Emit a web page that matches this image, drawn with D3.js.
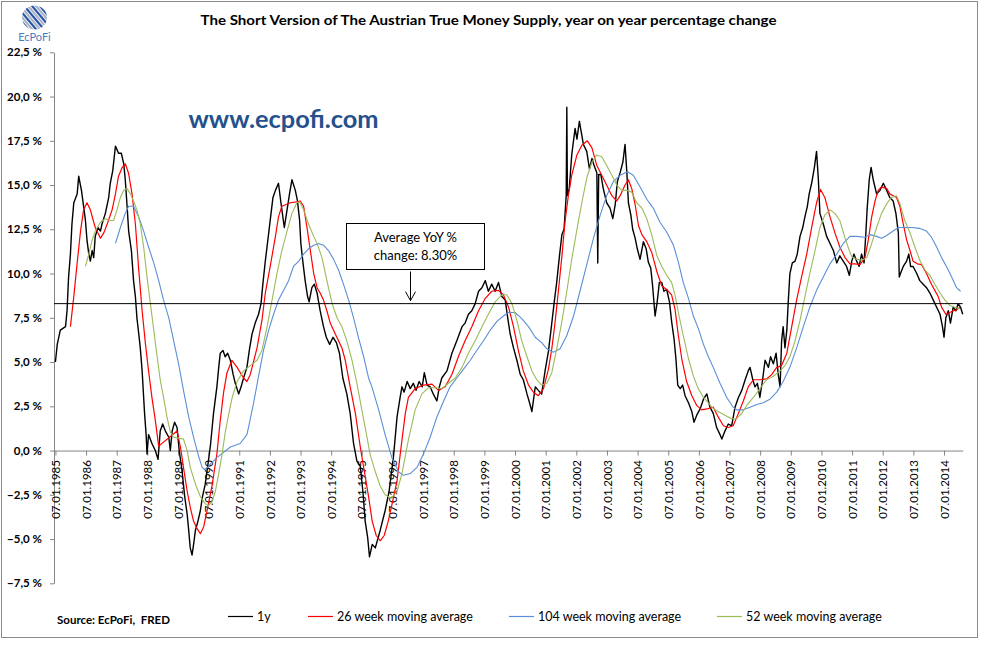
<!DOCTYPE html>
<html>
<head>
<meta charset="utf-8">
<script src="https://cdn.jsdelivr.net/npm/d3@7"></script>
<style>
  body { margin: 0; background: #fff; }
  svg { display: block; font-family: Lato, "Open Sans", sans-serif; }
</style>
</head>
<body>
<svg id="chart" width="992" height="648"></svg>
<script>
// values: [decimal year, % yoy]
var oneYear = [[1985.02,5.0],[1985.08,6.0],[1985.18,6.8],[1985.35,7.0],[1985.40,7.9],[1985.45,9.8],[1985.51,11.1],[1985.56,12.8],[1985.62,14.0],[1985.73,14.5],[1985.78,15.5],[1985.87,14.7],[1985.94,13.8],[1986.00,13.0],[1986.05,11.9],[1986.11,11.1],[1986.16,10.7],[1986.22,11.3],[1986.27,10.9],[1986.32,12.1],[1986.41,12.6],[1986.49,12.4],[1986.54,12.8],[1986.65,13.4],[1986.76,14.3],[1986.81,15.1],[1986.89,15.8],[1986.98,17.2],[1987.08,16.8],[1987.17,16.8],[1987.25,16.2],[1987.30,15.3],[1987.36,13.8],[1987.41,12.4],[1987.50,11.3],[1987.57,9.6],[1987.63,8.7],[1987.68,7.5],[1987.74,6.6],[1987.79,5.8],[1987.85,4.5],[1987.90,3.0],[1987.93,2.1],[1987.98,0.9],[1988.01,-0.2],[1988.06,0.9],[1988.17,0.4],[1988.28,0.0],[1988.37,-0.5],[1988.44,1.1],[1988.52,1.5],[1988.61,1.1],[1988.72,0.75],[1988.77,0.0],[1988.83,1.1],[1988.91,1.6],[1988.99,1.3],[1989.06,0.0],[1989.15,-1.1],[1989.24,-2.6],[1989.32,-3.6],[1989.37,-4.5],[1989.42,-5.5],[1989.48,-5.9],[1989.53,-5.3],[1989.59,-4.5],[1989.67,-4.0],[1989.75,-3.4],[1989.82,-2.6],[1989.91,-1.9],[1990.00,-0.75],[1990.08,0.3],[1990.18,2.1],[1990.29,3.6],[1990.35,4.7],[1990.40,5.5],[1990.49,5.65],[1990.56,5.3],[1990.64,5.5],[1990.73,5.1],[1990.82,4.3],[1990.89,3.8],[1991.00,3.2],[1991.08,3.6],[1991.16,4.1],[1991.27,4.7],[1991.36,5.8],[1991.44,6.6],[1991.54,7.2],[1991.65,7.7],[1991.73,8.3],[1991.79,9.4],[1991.87,10.7],[1991.94,11.7],[1992.03,13.0],[1992.12,14.3],[1992.20,14.7],[1992.30,15.1],[1992.38,14.0],[1992.49,12.6],[1992.58,13.6],[1992.66,14.5],[1992.74,15.3],[1992.85,14.7],[1992.92,14.1],[1992.99,13.0],[1993.03,11.7],[1993.10,10.6],[1993.17,9.6],[1993.25,8.7],[1993.30,8.4],[1993.39,9.2],[1993.47,9.4],[1993.56,8.9],[1993.66,7.9],[1993.77,7.0],[1993.86,6.4],[1993.97,6.0],[1994.08,6.4],[1994.19,6.1],[1994.29,5.5],[1994.40,4.1],[1994.53,3.2],[1994.64,2.1],[1994.75,0.4],[1994.86,-0.6],[1994.97,-0.9],[1995.06,-2.4],[1995.13,-4.0],[1995.21,-4.9],[1995.27,-6.0],[1995.36,-5.3],[1995.46,-5.5],[1995.62,-4.5],[1995.78,-3.4],[1995.91,-2.3],[1996.05,-0.4],[1996.17,1.9],[1996.27,3.0],[1996.33,3.6],[1996.40,3.3],[1996.50,3.9],[1996.60,3.5],[1996.70,3.8],[1996.79,3.4],[1996.89,3.9],[1996.99,3.6],[1997.06,4.4],[1997.15,3.7],[1997.25,3.6],[1997.35,3.2],[1997.47,2.8],[1997.55,3.6],[1997.63,4.1],[1997.80,4.5],[1997.96,5.5],[1998.12,6.2],[1998.29,7.0],[1998.39,7.2],[1998.50,7.7],[1998.61,7.9],[1998.72,8.3],[1998.83,9.0],[1998.94,9.2],[1999.05,9.6],[1999.15,9.0],[1999.26,9.4],[1999.37,9.0],[1999.48,9.5],[1999.59,8.7],[1999.70,8.5],[1999.79,7.4],[1999.86,6.6],[1999.97,5.8],[2000.08,5.1],[2000.19,4.3],[2000.29,4.0],[2000.41,3.2],[2000.51,2.6],[2000.57,2.2],[2000.68,3.6],[2000.78,3.4],[2000.89,3.2],[2001.00,4.5],[2001.11,5.6],[2001.20,6.9],[2001.30,8.4],[2001.38,9.5],[2001.47,11.0],[2001.55,12.2],[2001.62,12.5],[2001.69,14.4],[2001.71,19.4],[2001.73,14.4],[2001.79,14.8],[2001.87,16.7],[2001.98,18.2],[2002.04,17.6],[2002.12,18.6],[2002.20,17.8],[2002.25,17.3],[2002.36,16.9],[2002.45,15.9],[2002.53,16.5],[2002.60,16.1],[2002.69,15.7],[2002.72,10.6],[2002.75,15.6],[2002.82,15.6],[2002.90,14.8],[2003.01,14.0],[2003.12,13.7],[2003.21,13.1],[2003.29,13.9],[2003.36,15.2],[2003.45,15.7],[2003.54,16.3],[2003.61,17.3],[2003.67,15.7],[2003.72,14.0],[2003.80,13.3],[2003.86,12.5],[2003.94,12.0],[2004.01,11.4],[2004.10,10.8],[2004.21,11.8],[2004.30,11.4],[2004.37,10.65],[2004.45,10.3],[2004.51,9.3],[2004.59,7.6],[2004.66,8.4],[2004.73,9.5],[2004.81,9.5],[2004.88,9.0],[2004.97,9.1],[2005.06,8.4],[2005.13,7.3],[2005.21,6.3],[2005.27,5.2],[2005.33,3.7],[2005.41,3.5],[2005.49,3.7],[2005.57,3.1],[2005.68,2.7],[2005.79,2.2],[2005.86,1.6],[2005.95,2.0],[2006.06,2.35],[2006.17,2.9],[2006.28,3.2],[2006.38,2.45],[2006.49,2.1],[2006.60,1.3],[2006.71,0.9],[2006.77,0.65],[2006.87,1.1],[2006.98,1.5],[2007.09,1.4],[2007.20,2.45],[2007.31,3.0],[2007.42,3.4],[2007.53,4.0],[2007.63,4.5],[2007.69,4.7],[2007.78,4.0],[2007.85,3.6],[2007.93,3.8],[2008.01,3.0],[2008.10,4.0],[2008.18,5.1],[2008.29,4.7],[2008.36,5.3],[2008.45,4.9],[2008.54,5.5],[2008.61,4.3],[2008.67,3.6],[2008.72,6.2],[2008.77,7.0],[2008.83,5.8],[2008.89,6.8],[2008.94,8.5],[2008.99,10.0],[2009.07,10.6],[2009.16,10.7],[2009.23,11.1],[2009.32,12.1],[2009.41,12.6],[2009.48,13.2],[2009.56,13.8],[2009.62,14.5],[2009.70,15.1],[2009.79,16.0],[2009.86,16.9],[2009.92,15.3],[2009.97,13.4],[2010.08,12.8],[2010.19,12.1],[2010.30,11.7],[2010.41,11.3],[2010.52,10.6],[2010.62,11.0],[2010.73,10.7],[2010.84,10.4],[2010.93,9.9],[2011.01,10.7],[2011.08,11.1],[2011.17,10.7],[2011.25,10.4],[2011.33,11.1],[2011.41,10.6],[2011.47,12.3],[2011.51,13.6],[2011.58,15.3],[2011.64,16.0],[2011.71,15.3],[2011.82,14.5],[2011.93,14.7],[2012.04,15.1],[2012.15,14.7],[2012.25,14.3],[2012.36,14.1],[2012.45,13.4],[2012.53,12.3],[2012.56,9.8],[2012.60,10.0],[2012.69,10.4],[2012.80,10.7],[2012.87,11.1],[2012.93,10.4],[2013.01,10.4],[2013.13,10.0],[2013.23,9.6],[2013.34,9.4],[2013.45,9.2],[2013.56,8.9],[2013.67,8.5],[2013.78,8.1],[2013.89,7.7],[2013.97,7.0],[2014.02,6.4],[2014.08,7.5],[2014.16,7.9],[2014.23,7.2],[2014.32,8.1],[2014.41,7.9],[2014.48,8.3],[2014.56,8.1],[2014.63,7.7]];

var avg26 = [[1985.51,7.0],[1985.62,8.7],[1985.73,10.6],[1985.84,12.4],[1985.94,13.6],[1986.05,14.0],[1986.16,13.6],[1986.32,12.6],[1986.49,12.0],[1986.60,12.3],[1986.71,12.8],[1986.87,13.6],[1986.98,14.5],[1987.08,15.5],[1987.20,16.0],[1987.30,16.2],[1987.41,15.65],[1987.52,14.5],[1987.63,12.8],[1987.74,10.2],[1987.85,7.9],[1987.96,6.0],[1988.06,4.5],[1988.17,3.0],[1988.28,1.7],[1988.39,0.25],[1988.99,1.1],[1989.10,0.2],[1989.20,-0.95],[1989.32,-2.3],[1989.42,-3.2],[1989.53,-4.0],[1989.64,-4.4],[1989.75,-4.7],[1989.86,-4.3],[1989.97,-3.4],[1990.13,-2.0],[1990.29,-0.2],[1990.40,1.7],[1990.51,3.3],[1990.62,4.4],[1990.78,5.1],[1990.95,4.7],[1991.16,4.1],[1991.27,3.9],[1991.38,4.3],[1991.60,5.8],[1991.76,7.35],[1991.87,8.9],[1992.03,10.4],[1992.20,12.1],[1992.30,13.2],[1992.41,13.8],[1992.69,14.0],[1992.90,14.05],[1993.01,14.1],[1993.12,13.8],[1993.23,12.6],[1993.34,11.3],[1993.45,10.0],[1993.56,9.2],[1993.66,8.9],[1993.77,8.5],[1993.88,7.9],[1993.99,7.2],[1994.15,6.6],[1994.26,6.2],[1994.37,5.8],[1994.48,5.1],[1994.64,3.6],[1994.81,2.1],[1994.97,0.2],[1995.08,-0.95],[1995.24,-2.6],[1995.36,-4.0],[1995.49,-4.8],[1995.62,-5.1],[1995.75,-4.8],[1995.88,-4.0],[1996.01,-3.0],[1996.17,-1.7],[1996.33,0.6],[1996.44,2.1],[1996.54,3.0],[1996.76,3.5],[1997.03,3.7],[1997.31,3.75],[1997.52,3.4],[1997.74,3.6],[1997.96,4.3],[1998.17,5.3],[1998.39,6.2],[1998.61,7.0],[1998.83,7.9],[1999.05,8.6],[1999.26,9.0],[1999.48,9.05],[1999.64,8.8],[1999.81,8.1],[1999.97,7.0],[2000.13,5.65],[2000.29,4.5],[2000.46,3.7],[2000.62,3.3],[2000.78,3.1],[2000.95,3.5],[2001.11,4.6],[2001.22,5.75],[2001.33,7.3],[2001.44,9.1],[2001.55,11.0],[2001.65,12.9],[2001.76,14.4],[2001.87,15.55],[2002.04,16.7],[2002.20,17.25],[2002.38,17.5],[2002.53,17.1],[2002.69,16.1],[2002.85,15.55],[2003.01,15.0],[2003.18,14.4],[2003.34,14.1],[2003.45,14.4],[2003.61,15.0],[2003.72,15.3],[2003.83,14.8],[2003.94,13.9],[2004.05,12.7],[2004.16,12.2],[2004.32,11.8],[2004.48,11.2],[2004.65,10.1],[2004.81,9.3],[2004.97,9.1],[2005.13,8.8],[2005.24,8.0],[2005.35,6.5],[2005.46,5.2],[2005.62,3.9],[2005.79,3.1],[2005.95,2.55],[2006.11,2.3],[2006.28,2.35],[2006.49,2.45],[2006.65,1.9],[2006.82,1.4],[2006.98,1.3],[2007.14,1.4],[2007.31,2.1],[2007.47,2.8],[2007.63,3.6],[2007.80,4.0],[2008.01,4.0],[2008.23,4.05],[2008.40,4.3],[2008.56,4.7],[2008.72,4.8],[2008.89,5.5],[2009.05,7.0],[2009.21,8.5],[2009.37,9.8],[2009.54,11.1],[2009.70,12.6],[2009.86,14.0],[2009.99,14.75],[2010.13,14.3],[2010.30,13.2],[2010.46,12.3],[2010.62,11.5],[2010.79,10.9],[2010.95,10.55],[2011.11,10.55],[2011.28,10.5],[2011.44,10.9],[2011.55,11.9],[2011.66,13.2],[2011.77,14.1],[2011.87,14.7],[2011.98,14.9],[2012.15,14.8],[2012.25,14.5],[2012.36,14.4],[2012.47,14.3],[2012.58,13.8],[2012.69,12.8],[2012.80,11.9],[2012.91,11.3],[2013.01,10.7],[2013.15,10.55],[2013.29,10.5],[2013.45,10.0],[2013.61,9.4],[2013.72,9.05],[2013.83,8.7],[2013.94,8.1],[2014.08,7.7],[2014.21,7.8],[2014.32,7.9],[2014.43,7.95],[2014.54,8.1]];

var avg104 = [[1986.98,11.7],[1987.14,12.6],[1987.30,13.4],[1987.41,13.8],[1987.57,13.8],[1987.74,13.2],[1987.90,12.4],[1988.06,11.5],[1988.23,10.6],[1988.39,9.6],[1988.55,8.5],[1988.72,7.5],[1988.88,6.2],[1989.04,4.9],[1989.20,3.4],[1989.37,1.9],[1989.53,0.75],[1989.69,-0.3],[1989.81,-0.95],[1989.91,-1.1],[1990.08,-0.75],[1990.29,-0.4],[1990.73,0.2],[1991.05,0.4],[1991.27,0.9],[1991.32,1.3],[1991.49,2.7],[1991.65,4.2],[1991.81,5.65],[1991.98,6.8],[1992.14,7.7],[1992.30,8.5],[1992.47,9.05],[1992.63,9.6],[1992.79,10.4],[1992.96,10.7],[1993.12,11.1],[1993.28,11.4],[1993.45,11.6],[1993.61,11.7],[1993.77,11.6],[1993.93,11.3],[1994.10,10.8],[1994.26,10.2],[1994.42,9.4],[1994.59,8.5],[1994.75,7.5],[1994.91,6.4],[1995.08,5.3],[1995.24,4.1],[1995.35,3.6],[1995.57,2.3],[1995.78,0.9],[1996.00,-0.4],[1996.22,-1.2],[1996.38,-1.4],[1996.60,-1.3],[1996.82,-0.95],[1997.03,-0.2],[1997.25,0.75],[1997.47,1.9],[1997.69,2.8],[1997.90,3.6],[1998.12,4.1],[1998.34,4.6],[1998.56,5.1],[1998.77,5.65],[1998.99,6.2],[1999.21,6.8],[1999.43,7.3],[1999.64,7.6],[1999.81,7.8],[2000.02,7.8],[2000.24,7.45],[2000.46,7.0],[2000.68,6.4],[2000.89,6.1],[2001.06,5.75],[2001.27,5.55],[2001.49,5.75],[2001.71,6.5],[2001.93,7.6],[2002.14,9.0],[2002.36,10.5],[2002.58,12.0],[2002.80,13.3],[2003.01,14.4],[2003.23,15.2],[2003.45,15.55],[2003.69,15.75],[2003.88,15.55],[2004.10,14.9],[2004.32,14.2],[2004.53,13.7],[2004.75,12.9],[2004.97,12.35],[2005.19,11.6],[2005.35,10.65],[2005.51,9.5],[2005.68,8.6],[2005.84,7.6],[2006.00,6.9],[2006.17,6.0],[2006.33,5.3],[2006.49,4.7],[2006.71,3.8],[2006.93,3.0],[2007.14,2.45],[2007.25,2.3],[2007.47,2.3],[2007.69,2.45],[2007.91,2.6],[2008.12,2.7],[2008.34,2.9],[2008.56,3.3],[2008.77,3.9],[2008.99,4.7],[2009.21,5.8],[2009.43,7.0],[2009.64,8.1],[2009.86,9.05],[2010.08,9.8],[2010.30,10.55],[2010.52,11.1],[2010.73,11.7],[2010.95,12.1],[2011.17,12.1],[2011.44,12.05],[2011.60,12.2],[2011.82,12.1],[2011.98,12.0],[2012.15,12.15],[2012.36,12.4],[2012.53,12.6],[2012.74,12.6],[2012.96,12.6],[2013.23,12.55],[2013.45,12.4],[2013.61,12.05],[2013.78,11.5],[2013.94,10.9],[2014.10,10.4],[2014.27,9.8],[2014.43,9.2],[2014.56,9.0]];

var avg52 = [[1986.00,10.4],[1986.11,11.1],[1986.22,11.9],[1986.32,12.4],[1986.49,12.9],[1986.65,13.1],[1986.81,13.0],[1986.92,13.0],[1987.03,13.6],[1987.14,14.3],[1987.25,14.7],[1987.36,14.8],[1987.47,14.5],[1987.57,14.1],[1987.68,13.6],[1987.79,12.8],[1987.90,11.5],[1988.01,9.8],[1988.12,8.3],[1988.23,6.8],[1988.34,5.3],[1988.44,4.0],[1988.55,3.0],[1988.66,1.9],[1988.77,1.05],[1988.88,0.75],[1989.04,0.7],[1989.20,0.65],[1989.32,0.0],[1989.42,-0.95],[1989.59,-1.9],[1989.75,-2.6],[1989.91,-3.0],[1990.02,-3.1],[1990.13,-2.9],[1990.24,-2.3],[1990.35,-1.3],[1990.46,-0.2],[1990.56,1.0],[1990.67,2.0],[1990.79,3.0],[1990.95,3.9],[1991.16,4.5],[1991.38,4.8],[1991.60,5.1],[1991.76,5.65],[1991.93,7.0],[1992.09,8.5],[1992.25,10.0],[1992.41,11.3],[1992.58,12.4],[1992.74,13.4],[1992.90,14.0],[1992.99,14.05],[1993.12,13.6],[1993.28,12.8],[1993.45,12.1],[1993.56,11.7],[1993.72,10.9],[1993.88,9.6],[1994.05,8.3],[1994.21,7.5],[1994.37,7.0],[1994.53,6.2],[1994.70,5.1],[1994.86,3.8],[1995.02,2.3],[1995.19,0.75],[1995.29,-0.2],[1995.46,-1.2],[1995.62,-2.0],[1995.78,-2.5],[1995.98,-2.7],[1996.17,-2.3],[1996.33,-1.3],[1996.44,-0.3],[1996.54,0.6],[1996.76,2.3],[1996.98,3.2],[1997.20,3.55],[1997.41,3.55],[1997.63,3.5],[1997.85,3.8],[1998.07,4.1],[1998.29,4.7],[1998.50,5.5],[1998.72,6.2],[1998.94,7.0],[1999.15,7.7],[1999.37,8.4],[1999.59,8.8],[1999.75,8.8],[1999.92,8.3],[2000.08,7.35],[2000.24,6.2],[2000.41,5.3],[2000.57,4.5],[2000.73,4.0],[2000.89,3.7],[2001.06,3.8],[2001.22,4.4],[2001.38,5.75],[2001.55,7.3],[2001.71,9.0],[2001.87,10.8],[2002.04,12.5],[2002.20,14.0],[2002.36,15.4],[2002.53,16.3],[2002.69,16.7],[2002.85,16.6],[2003.01,16.1],[2003.18,15.55],[2003.34,15.0],[2003.50,14.7],[2003.67,14.7],[2003.83,14.6],[2003.99,14.0],[2004.16,13.7],[2004.32,13.1],[2004.48,12.2],[2004.65,11.0],[2004.81,10.4],[2004.97,9.9],[2005.13,9.5],[2005.24,8.8],[2005.35,7.8],[2005.51,6.5],[2005.68,5.2],[2005.84,4.2],[2006.00,3.5],[2006.17,3.0],[2006.33,2.7],[2006.44,2.45],[2006.65,2.2],[2006.87,2.0],[2007.09,1.8],[2007.25,1.8],[2007.42,2.1],[2007.58,2.55],[2007.80,3.0],[2008.01,3.5],[2008.23,4.0],[2008.45,4.2],[2008.67,4.5],[2008.83,4.8],[2008.99,5.3],[2009.16,6.2],[2009.32,7.35],[2009.48,8.7],[2009.64,10.0],[2009.81,11.3],[2009.97,12.6],[2010.13,13.3],[2010.30,13.6],[2010.46,13.4],[2010.62,13.0],[2010.79,12.0],[2010.93,11.3],[2011.01,10.95],[2011.17,10.8],[2011.33,10.75],[2011.50,10.9],[2011.66,11.7],[2011.82,12.6],[2011.98,13.4],[2012.15,13.95],[2012.31,14.3],[2012.47,14.4],[2012.58,13.95],[2012.74,13.0],[2012.91,12.3],[2013.07,11.5],[2013.23,10.75],[2013.40,10.2],[2013.56,9.9],[2013.72,9.4],[2013.89,8.9],[2014.05,8.5],[2014.21,8.2],[2014.37,8.1],[2014.54,8.0]];

var averageYoY = 8.30;
var yTicks = [-7.5, -5, -2.5, 0, 2.5, 5, 7.5, 10, 12.5, 15, 17.5, 20, 22.5];
var tickYears = [1985,1986,1987,1988,1989,1990,1991,1992,1993,1994,1995,1996,1997,1998,1999,2000,2001,2002,2003,2004,2005,2006,2007,2008,2009,2010,2011,2012,2013,2014];

var svg = d3.select('#chart');

// chart frame
svg.append('rect')
    .attr('x', 1.5).attr('y', 1.5)
    .attr('width', 976).attr('height', 636)
    .attr('fill', '#fff').attr('stroke', '#8a8a8a');

var x = d3.scaleLinear().domain([1984.974, 2014.63]).range([54, 962.7]);
var y = d3.scaleLinear().domain([-7.5, 22.5]).range([583.3, 52.3]);

// y axis
var yAxis = svg.append('g')
    .attr('transform', 'translate(54,0)')
    .call(d3.axisLeft(y)
        .tickValues(yTicks)
        .tickSize(4)
        .tickSizeOuter(0)
        .tickPadding(8)
        .tickFormat(function(d) { return d3.format('.1f')(d).replace('.', ',') + ' %'; }));
yAxis.selectAll('path, line').attr('stroke', '#868686');
yAxis.selectAll('text')
    .attr('fill', '#000')
    .style('font-size', '11.5px')
    .style('font-weight', 'bold')
    .style('font-family', 'Lato, "Open Sans", sans-serif');

// x axis crosses at 0
var xAxis = svg.append('g')
    .attr('transform', 'translate(0,' + y(0) + ')')
    .call(d3.axisBottom(x)
        .tickValues(tickYears.map(function(yr) { return yr + 0.02; }))
        .tickSize(5)
        .tickSizeOuter(0)
        .tickFormat(function(d) { return '07.01.' + Math.round(d - 0.02); }));
xAxis.selectAll('path, line').attr('stroke', '#868686');
xAxis.selectAll('text')
    .attr('transform', 'rotate(-90)')
    .attr('text-anchor', 'end')
    .attr('x', -9.5)
    .attr('y', 0)
    .attr('dy', '0.36em')
    .attr('fill', '#000')
    .style('font-size', '11.5px')
    .style('font-family', 'Lato, "Open Sans", sans-serif');

// series
var line = d3.line()
    .x(function(d) { return x(d[0]); })
    .y(function(d) { return y(d[1]); });

var series = [
    { data: oneYear, color: '#000000', width: 1.4 },
    { data: avg26, color: '#ff0000', width: 1.2 },
    { data: avg104, color: '#5b8fd6', width: 1.1 },
    { data: avg52, color: '#9bbb59', width: 1.1 }
];
series.forEach(function(s) {
    svg.append('path')
        .datum(s.data)
        .attr('fill', 'none')
        .attr('stroke', s.color)
        .attr('stroke-width', s.width)
        .attr('stroke-linejoin', 'round')
        .attr('d', line);
});

// average line
svg.append('line')
    .attr('x1', x.range()[0]).attr('x2', x.range()[1])
    .attr('y1', y(averageYoY)).attr('y2', y(averageYoY))
    .attr('stroke', '#000').attr('stroke-width', 1);

// annotation box + arrow
svg.append('rect')
    .attr('x', 346.5).attr('y', 223.5)
    .attr('width', 138).attr('height', 46)
    .attr('fill', '#fff').attr('stroke', '#000');
svg.append('text')
    .attr('x', 415.5).attr('y', 242)
    .attr('text-anchor', 'middle')
    .style('font-size', '13px')
    .text('Average YoY %');
svg.append('text')
    .attr('x', 415.5).attr('y', 259.5)
    .attr('text-anchor', 'middle')
    .style('font-size', '13px')
    .text('change: 8.30%');
var arrowX = 410.5;
svg.append('line')
    .attr('x1', arrowX).attr('x2', arrowX)
    .attr('y1', 271.5).attr('y2', y(averageYoY) - 3)
    .attr('stroke', '#000');
svg.append('path')
    .attr('d', 'M' + (arrowX - 5) + ',' + (y(averageYoY) - 12) + 'L' + arrowX + ',' + (y(averageYoY) - 3) + 'L' + (arrowX + 5) + ',' + (y(averageYoY) - 12))
    .attr('fill', 'none').attr('stroke', '#000');

// title and web address
svg.append('text')
    .attr('x', 488.5).attr('y', 25)
    .attr('text-anchor', 'middle')
    .attr('textLength', 576)
    .attr('lengthAdjust', 'spacingAndGlyphs')
    .style('font-size', '14px')
    .style('font-weight', 'bold')
    .text('The Short Version of The Austrian True Money Supply, year on year percentage change');
svg.append('text')
    .attr('x', 188.5).attr('y', 127.5)
    .attr('textLength', 190)
    .attr('lengthAdjust', 'spacingAndGlyphs')
    .attr('fill', '#24518c')
    .style('font-size', '25px')
    .style('font-weight', 'bold')
    .text('www.ecpofi.com');

// logo
var logo = svg.append('g').attr('transform', 'translate(34.5,17.5)');
logo.append('clipPath').attr('id', 'logoClip')
    .append('ellipse').attr('rx', 12.5).attr('ry', 12);
var stripes = logo.append('g').attr('clip-path', 'url(#logoClip)')
    .append('g').attr('transform', 'rotate(-40)');
d3.range(-8, 9).forEach(function(i) {
    stripes.append('rect')
        .attr('x', i * 3 - 1.5).attr('y', -16)
        .attr('width', 2.2).attr('height', 32)
        .attr('fill', i % 2 === 0 ? '#2b56a6' : '#a9b4c6');
});
svg.append('text')
    .attr('x', 34.5).attr('y', 40.5)
    .attr('text-anchor', 'middle')
    .attr('fill', '#4f7cc0')
    .style('font-size', '11px')
    .text('EcPoFi');

// source + legend
svg.append('text')
    .attr('x', 57).attr('y', 624)
    .style('font-size', '11.5px')
    .style('font-weight', 'bold')
    .style('white-space', 'pre')
    .text('Source: EcPoFi,\u00a0\u00a0FRED');

var legendItems = [
    { label: '1y', color: '#000000', x: 228 },
    { label: '26 week moving average', color: '#ff0000', x: 308 },
    { label: '104 week moving average', color: '#5b8fd6', x: 509 },
    { label: '52 week moving average', color: '#9bbb59', x: 717 }
];
var legend = svg.append('g');
legendItems.forEach(function(it) {
    legend.append('line')
        .attr('x1', it.x).attr('x2', it.x + 25)
        .attr('y1', 616.5).attr('y2', 616.5)
        .attr('stroke', it.color).attr('stroke-width', 1.2);
    legend.append('text')
        .attr('x', it.x + 29).attr('y', 620.5)
        .style('font-size', '12.5px')
        .text(it.label);
});
</script>
</body>
</html>
